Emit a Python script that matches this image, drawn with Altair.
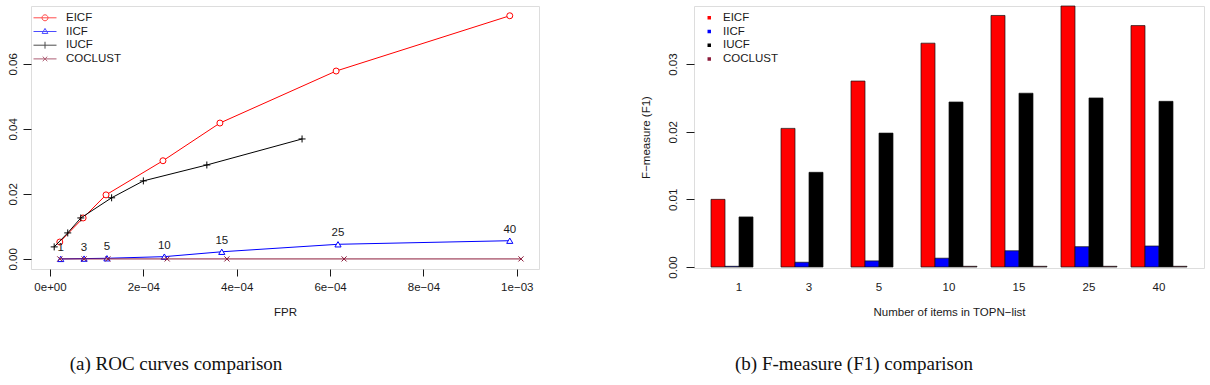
import altair as alt
import pandas as pd

methods = ["EICF", "IICF", "IUCF", "COCLUST"]
method_colors = ["#ff0000", "#0000ff", "#000000", "#8b1a3a"]

topn_sizes = ["1", "3", "5", "10", "15", "25", "40"]

# ROC curve points (FPR, TPR), one per TOPN size
eicf_fpr = [0.000021, 0.000071, 0.000120, 0.000242, 0.000364, 0.000613, 0.000985]
eicf_tpr = [0.0052, 0.0126, 0.0197, 0.0302, 0.0418, 0.0578, 0.0748]
iicf_fpr = [0.000023, 0.000073, 0.000122, 0.000245, 0.000368, 0.000617, 0.000985]
iicf_tpr = [0.0000, 0.0001, 0.0002, 0.0007, 0.0022, 0.0045, 0.0056]
iucf_fpr = [0.000009, 0.000038, 0.000066, 0.000132, 0.000200, 0.000336, 0.000540]
iucf_tpr = [0.0037, 0.0080, 0.0126, 0.0188, 0.0240, 0.0289, 0.0369]
coclust_fpr = [0.000021, 0.000073, 0.000124, 0.000251, 0.000379, 0.000630, 0.001009]
coclust_tpr = [0.0000, 0.0000, 0.0000, 0.0000, 0.0000, 0.0000, 0.0000]

# F-measure (F1) per TOPN size
eicf_f1 = [0.0100, 0.0205, 0.0275, 0.0331, 0.0372, 0.0386, 0.0357]
iicf_f1 = [0.0001, 0.0007, 0.0009, 0.0013, 0.0024, 0.0030, 0.0031]
iucf_f1 = [0.0074, 0.0140, 0.0198, 0.0244, 0.0257, 0.0250, 0.0245]
coclust_f1 = [0.0000, 0.0000, 0.0000, 0.0001, 0.0001, 0.0001, 0.0001]

fpr_ticks = [0.0, 0.0002, 0.0004, 0.0006, 0.0008, 0.001]
fpr_tick_labels = ["0e+00", "2e\u221204", "4e\u221204", "6e\u221204", "8e\u221204", "1e\u221203"]
tpr_ticks = [0.0, 0.02, 0.04, 0.06]
f1_ticks = [0.0, 0.01, 0.02, 0.03]

SANS = "Liberation Sans"
SERIF = "Liberation Serif"
FS = 11.5

roc_fpr = {"EICF": eicf_fpr, "IICF": iicf_fpr, "IUCF": iucf_fpr, "COCLUST": coclust_fpr}
roc_tpr = {"EICF": eicf_tpr, "IICF": iicf_tpr, "IUCF": iucf_tpr, "COCLUST": coclust_tpr}
f1_vals = {"EICF": eicf_f1, "IICF": iicf_f1, "IUCF": iucf_f1, "COCLUST": coclust_f1}

roc = pd.DataFrame(
    [
        {"method": m, "n": n, "fpr": f, "tpr": t}
        for m in methods
        for n, f, t in zip(topn_sizes, roc_fpr[m], roc_tpr[m])
    ]
)
f1 = pd.DataFrame(
    [{"method": m, "n": n, "f1": v} for m in methods for n, v in zip(topn_sizes, f1_vals[m])]
)

# point symbols (R pch 1, 2, 3, 4) and legend keys (line with symbol)
marker_shape = {
    "EICF": "circle",
    "IICF": "triangle-up",
    "IUCF": "M-1,0L1,0M0,-1L0,1",
    "COCLUST": "M-1,-1L1,1M-1,1L1,-1",
}
marker_size = {"EICF": 36, "IICF": 38, "IUCF": 49, "COCLUST": 26}
legend_keys = [
    "M-1,0L1,0M0.26,0A0.26,0.26,0,1,1,-0.26,0A0.26,0.26,0,1,1,0.26,0",
    "M-1,0L1,0M0,-0.27L0.25,0.17L-0.25,0.17Z",
    "M-1,0L1,0M0,-0.3L0,0.3",
    "M-1,0L1,0M-0.2,-0.2L0.2,0.2M-0.2,0.2L0.2,-0.2",
]

axis_common = dict(
    grid=False,
    domain=False,
    labelFont=SANS,
    labelFontSize=FS,
    labelColor="#1a1a1a",
    tickColor="#1a1a1a",
    tickWidth=1,
    titleFont=SANS,
    titleFontSize=FS,
    titleFontWeight="normal",
    titleColor="#1a1a1a",
)

fpr_label_expr = (
    "[" + ",".join("'%s'" % s for s in fpr_tick_labels) + "]"
    + "[indexof([" + ",".join(repr(v) for v in fpr_ticks) + "], datum.value)]"
)

x_roc = alt.X(
    "fpr:Q",
    scale=alt.Scale(domain=[-0.0000407, 0.0010476], nice=False, zero=False),
    axis=alt.Axis(
        values=fpr_ticks,
        labelExpr=fpr_label_expr,
        title="FPR",
        tickSize=7,
        labelPadding=5,
        titlePadding=14,
        **axis_common,
    ),
)
y_roc = alt.Y(
    "tpr:Q",
    scale=alt.Scale(domain=[-0.0031, 0.0778], nice=False, zero=False),
    axis=alt.Axis(
        values=tpr_ticks,
        format=".2f",
        labelAngle=270,
        labelAlign="center",
        labelBaseline="alphabetic",
        tickSize=8,
        labelPadding=7,
        title=None,
        **axis_common,
    ),
)

roc_layers = []
for m, c in zip(methods, method_colors):
    sub = alt.Chart(roc).transform_filter(alt.datum.method == m)
    roc_layers.append(sub.mark_line(color=c, strokeWidth=1).encode(x=x_roc, y=y_roc))
    roc_layers.append(
        sub.mark_point(
            shape=marker_shape[m],
            color=c,
            filled=False,
            fill="white",
            fillOpacity=1,
            strokeWidth=1,
            size=marker_size[m],
            opacity=1,
        ).encode(x=x_roc, y=y_roc)
    )

# TOPN sizes written above the IICF curve
roc_labels = (
    alt.Chart(roc)
    .transform_filter(alt.datum.method == "IICF")
    .mark_text(font=SANS, fontSize=FS, color="#1a1a1a", dy=-11, baseline="middle")
    .encode(x=x_roc, y=y_roc, text="n:N")
)

roc_legend_params = dict(
    title=None,
    orient="none",
    legendX=2,
    legendY=6,
    symbolSize=529,
    symbolStrokeWidth=1,
    labelFont=SANS,
    labelFontSize=FS,
    labelColor="#1a1a1a",
    labelOffset=9,
    clipHeight=11.6,
    rowPadding=0.7,
    padding=0,
)

roc_legend = (
    alt.Chart(roc)
    .transform_filter("datum.tpr < -1")
    .mark_point(filled=False, clip=True)
    .encode(
        x=x_roc,
        y=y_roc,
        color=alt.Color(
            "method:N",
            scale=alt.Scale(domain=methods, range=method_colors),
            legend=alt.Legend(**roc_legend_params),
        ),
        shape=alt.Shape(
            "method:N",
            scale=alt.Scale(domain=methods, range=legend_keys),
            legend=alt.Legend(**roc_legend_params),
        ),
    )
)

roc_chart = alt.layer(*roc_layers, roc_labels, roc_legend).properties(
    width=508,
    height=263,
    title=alt.TitleParams(
        "(a) ROC curves comparison",
        orient="bottom",
        anchor="middle",
        dx=-109,
        offset=37,
        font=SERIF,
        fontSize=19,
        fontWeight="normal",
        color="#111",
    ),
)

# grouped bars of F1
bars = (
    alt.Chart(f1)
    .transform_filter("datum.f1 > 0")
    .mark_bar(stroke="#111", strokeWidth=0.7)
    .encode(
        x=alt.X(
            "n:N",
            sort=topn_sizes,
            scale=alt.Scale(paddingInner=0.2, paddingOuter=0.243),
            axis=alt.Axis(
                title="Number of items in TOPN\u2212list",
                labelAngle=0,
                ticks=False,
                tickSize=0,
                labelPadding=13,
                titlePadding=14,
                **axis_common,
            ),
        ),
        xOffset=alt.XOffset("method:N", scale=alt.Scale(domain=methods, paddingInner=0, paddingOuter=0)),
        y=alt.Y(
            "f1:Q",
            scale=alt.Scale(domain=[-0.00015, 0.0386], nice=False, zero=False),
            axis=alt.Axis(
                values=f1_ticks,
                format=".2f",
                labelAngle=270,
                labelAlign="center",
                labelBaseline="alphabetic",
                tickSize=8,
                labelPadding=10,
                title="F\u2212measure (F1)",
                titlePadding=16,
                **axis_common,
            ),
        ),
        y2=alt.datum(0),
        color=alt.Color(
            "method:N",
            scale=alt.Scale(domain=methods, range=method_colors),
            legend=alt.Legend(
                title=None,
                orient="none",
                legendX=9.5,
                legendY=6,
                symbolType="square",
                symbolSize=12,
                symbolStrokeWidth=0,
                labelFont=SANS,
                labelFontSize=FS,
                labelColor="#1a1a1a",
                labelOffset=8,
                clipHeight=11.6,
                rowPadding=0.7,
                padding=0,
            ),
        ),
    )
    .properties(
        width=510,
        height=262,
        title=alt.TitleParams(
            "(b) F-measure (F1) comparison",
            orient="bottom",
            anchor="middle",
            dx=-95,
            offset=37,
            font=SERIF,
            fontSize=19,
            fontWeight="normal",
            color="#111",
        ),
    )
)

chart = (
    alt.hconcat(roc_chart, bars, spacing=99)
    .resolve_scale(color="independent", shape="independent", x="independent", y="independent")
    .resolve_legend(color="independent", shape="independent")
    .properties(padding={"left": 6, "top": 5, "right": 0, "bottom": 0})
    .configure_view(stroke="#333", strokeWidth=1)
    .configure(background="white")
)

chart.save("out.html", embed_options={"renderer": "svg", "actions": False})
